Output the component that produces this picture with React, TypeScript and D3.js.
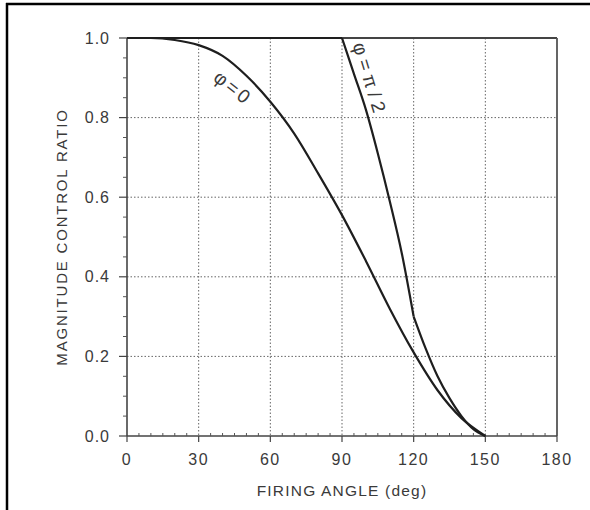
import React from "react";
import * as d3 from "d3";

const xTicks = [0, 30, 60, 90, 120, 150, 180];
const yTicks = [0.0, 0.2, 0.4, 0.6, 0.8, 1.0];
const xMinorStep = 5;
const yMinorStep = 0.05;

// phi = 0 curve
const anglesPhi0 = [0, 10, 20, 30, 40, 50, 60, 70, 80, 90, 100, 110, 120, 130, 140, 150];
const ratioPhi0 = [1, 1, 0.995, 0.982, 0.955, 0.905, 0.84, 0.76, 0.66, 0.555, 0.44, 0.32, 0.21, 0.115, 0.045, 0];

// phi = pi/2 curve, three pieces
const anglesHalfPiA = [0, 90];
const ratioHalfPiA = [1, 1];
const anglesHalfPiB = [90, 95, 100, 105, 110, 115, 120];
const ratioHalfPiB = [1, 0.91, 0.82, 0.71, 0.59, 0.46, 0.3];
const anglesHalfPiC = [120, 125, 130, 135, 140, 145, 150];
const ratioHalfPiC = [0.3, 0.22, 0.15, 0.095, 0.05, 0.017, 0];

const W = 590;
const H = 510;
const left = 127;
const right = 557;
const top = 38;
const bottom = 436;

export default function App() {
  const x = d3.scaleLinear().domain([0, 180]).range([left, right]);
  const y = d3.scaleLinear().domain([0, 1]).range([bottom, top]);

  const xMinor = d3.range(0, 180 + 0.001, xMinorStep).filter((v) => v % 30 !== 0);
  const yMinor = d3.range(0, 1.0001, yMinorStep).filter((v) => Math.abs(v * 5 - Math.round(v * 5)) > 1e-6);

  const mk = (xs: number[], ys: number[]) =>
    d3
      .line<number>()
      .x((_, i) => x(xs[i]))
      .y((d) => y(d))
      .curve(d3.curveMonotoneX)(ys) || "";

  const font = "'Liberation Sans', Arial, sans-serif";
  const textColor = "#3a3a3a";
  const lineColor = "#1e1e1e";

  return (
    <svg
      width={W}
      height={H}
      style={{ position: "absolute", left: 0, top: 0, background: "#fff" }}
    >
      {/* outer frame (top and left) */}
      <line x1={6} y1={4} x2={W} y2={4} stroke="#000" strokeWidth={2.5} />
      <line x1={7} y1={3} x2={7} y2={H} stroke="#000" strokeWidth={2.5} />

      {/* dotted grid */}
      {xTicks
        .filter((v) => v > 0 && v < 180)
        .map((v) => (
          <line
            key={"gx" + v}
            x1={x(v)}
            x2={x(v)}
            y1={y(1)}
            y2={y(0)}
            stroke="#666"
            strokeWidth={1}
            strokeDasharray="1.5,2"
          />
        ))}
      {yTicks
        .filter((v) => v > 0 && v < 1)
        .map((v) => (
          <line
            key={"gy" + v}
            x1={x(0)}
            x2={x(180)}
            y1={y(v)}
            y2={y(v)}
            stroke="#666"
            strokeWidth={1}
            strokeDasharray="1.5,2"
          />
        ))}

      {/* plot frame */}
      <line x1={x(0)} x2={x(180)} y1={y(1)} y2={y(1)} stroke="#444" strokeWidth={2} />
      <line x1={x(180)} x2={x(180)} y1={y(1)} y2={y(0)} stroke="#555" strokeWidth={1.8} />
      <line x1={x(0)} x2={x(0)} y1={y(1)} y2={y(0)} stroke="#444" strokeWidth={1.6} />
      <line x1={x(0)} x2={x(180)} y1={y(0)} y2={y(0)} stroke="#444" strokeWidth={1.6} />

      {/* y ticks */}
      {yTicks.map((v) => (
        <g key={"yt" + v}>
          <line x1={x(0) - 8} x2={x(0)} y1={y(v)} y2={y(v)} stroke="#444" strokeWidth={1.2} />
          <text
            x={x(0) - 17}
            y={y(v)}
            dy="0.35em"
            textAnchor="end"
            fontFamily={font}
            fontSize={16}
            letterSpacing={1}
            fill={textColor}
          >
            {v.toFixed(1)}
          </text>
        </g>
      ))}
      {yMinor.map((v) => (
        <line key={"ym" + v} x1={x(0) - 4} x2={x(0)} y1={y(v)} y2={y(v)} stroke="#555" strokeWidth={1} />
      ))}

      {/* x ticks */}
      {xTicks.map((v) => (
        <g key={"xt" + v}>
          <line x1={x(v)} x2={x(v)} y1={y(0)} y2={y(0) + 6} stroke="#444" strokeWidth={1.2} />
          <text
            x={x(v)}
            y={y(0) + 29}
            textAnchor="middle"
            fontFamily={font}
            fontSize={16}
            letterSpacing={1.5}
            fill={textColor}
          >
            {v}
          </text>
        </g>
      ))}
      {xMinor.map((v) => (
        <line key={"xm" + v} x1={x(v)} x2={x(v)} y1={y(0) - 3} y2={y(0)} stroke="#555" strokeWidth={1} />
      ))}

      {/* curves */}
      <path d={mk(anglesPhi0, ratioPhi0)} fill="none" stroke={lineColor} strokeWidth={2.2} />
      <path d={mk(anglesHalfPiA, ratioHalfPiA)} fill="none" stroke={lineColor} strokeWidth={2.2} />
      <path d={mk(anglesHalfPiB, ratioHalfPiB)} fill="none" stroke={lineColor} strokeWidth={2.2} />
      <path d={mk(anglesHalfPiC, ratioHalfPiC)} fill="none" stroke={lineColor} strokeWidth={2.2} />

      {/* curve labels */}
      <text
        transform={`translate(${x(44.5)},${y(0.875)}) rotate(38)`}
        textAnchor="middle"
        dy="0.35em"
        fontFamily={font}
        fontSize={19}
        letterSpacing={3}
        fill={textColor}
      >
        φ=0
      </text>
      <text
        transform={`translate(${x(101.8)},${y(0.895)}) rotate(73)`}
        textAnchor="middle"
        dy="0.35em"
        fontFamily={font}
        fontSize={19}
        letterSpacing={5}
        fill={textColor}
      >
        φ=π/2
      </text>

      {/* axis titles */}
      <text
        x={(x(0) + x(180)) / 2}
        y={496}
        textAnchor="middle"
        fontFamily={font}
        fontSize={15.5}
        letterSpacing={1.2}
        fill={textColor}
      >
        FIRING ANGLE (deg)
      </text>
      <text
        transform={`translate(62,${(y(0) + y(1)) / 2}) rotate(-90)`}
        textAnchor="middle"
        dy="0.35em"
        fontFamily={font}
        fontSize={15}
        letterSpacing={1.8}
        fill={textColor}
      >
        MAGNITUDE CONTROL RATIO
      </text>
    </svg>
  );
}
